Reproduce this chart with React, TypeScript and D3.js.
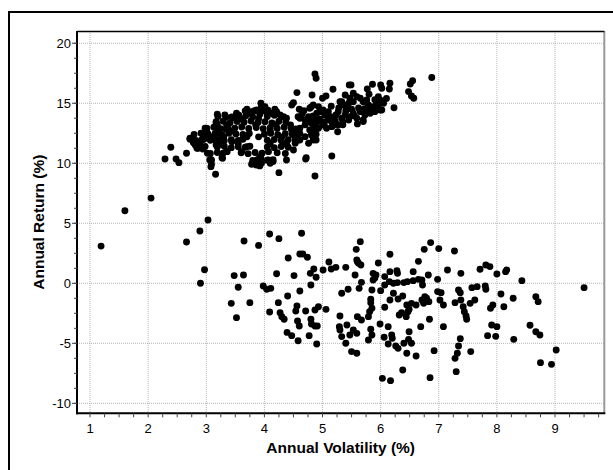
import React from "react";
import * as d3 from "d3";

// Annual volatility (%) vs. annual return (%) for two groups of funds.
const highReturnFunds: [number, number][] = [
  [2.29, 10.36], [2.39, 11.33], [2.48, 10.36], [2.53, 10.05], [2.66, 10.83], [2.72, 12.0], [2.78, 11.72],
  [2.84, 11.25], [2.91, 11.33], [2.89, 11.8], [2.96, 12.0], [3.0, 12.92], [3.02, 12.36], [3.02, 10.83],
  [3.09, 10.27], [3.08, 9.72], [3.16, 9.08], [3.28, 10.42], [3.36, 10.97], [3.19, 14.08], [3.19, 13.19],
  [3.21, 12.5], [3.15, 11.94], [3.34, 13.83], [3.34, 12.83], [3.29, 12.08], [3.44, 11.8], [3.52, 14.17],
  [3.61, 10.97], [3.7, 11.39], [3.8, 10.0], [3.87, 10.27], [3.92, 9.78], [3.94, 10.42], [3.94, 15.0],
  [4.01, 14.72], [4.07, 10.97], [4.15, 10.14], [4.25, 9.22], [4.38, 10.27], [4.5, 11.11], [4.56, 15.89],
  [4.47, 14.86], [4.5, 15.05], [4.71, 10.36], [4.87, 8.94], [4.87, 17.44], [4.89, 17.08], [4.82, 15.69],
  [4.68, 14.38], [4.8, 14.67], [5.0, 15.42], [5.06, 15.61], [5.18, 16.17], [5.39, 15.69], [5.46, 16.53],
  [5.3, 15.13], [5.26, 12.63], [5.16, 10.61], [4.84, 12.36], [4.78, 12.78], [4.93, 12.92], [5.03, 13.19],
  [3.48, 13.8], [3.67, 14.36], [3.72, 14.17], [3.78, 14.3], [3.87, 14.44], [3.95, 14.72], [4.01, 14.36],
  [4.05, 14.03], [4.15, 14.17], [4.21, 14.3], [4.27, 14.03], [4.33, 13.88], [4.38, 13.75], [4.58, 13.88],
  [4.87, 13.61], [2.98, 12.92], [3.02, 12.5], [2.95, 12.36], [2.92, 11.94], [2.89, 11.67], [2.72, 12.08],
  [2.78, 11.8], [2.81, 11.53], [2.86, 11.25], [2.94, 11.19], [3.06, 10.27], [3.09, 9.92], [3.17, 13.47],
  [3.15, 13.05], [3.18, 12.63], [3.12, 12.22], [3.21, 11.94], [3.27, 11.67], [3.17, 11.53], [3.27, 10.47],
  [3.35, 11.03], [3.92, 10.55], [3.95, 10.0], [3.81, 10.0], [3.78, 9.92], [4.07, 10.27], [4.1, 10.0],
  [4.53, 11.67], [4.58, 11.94], [4.56, 12.5], [4.7, 12.22], [4.76, 11.67], [4.72, 10.47], [4.81, 12.63],
  [4.87, 12.36], [4.84, 11.94],
  [3.7, 14.5], [3.83, 14.38], [3.95, 14.55], [4.06, 14.42], [4.18, 14.5],
  [3.2, 13.9], [3.32, 14.02], [3.44, 13.86], [3.56, 14.0], [3.68, 13.95], [3.8, 13.88], [3.92, 14.06],
  [4.05, 13.9], [4.17, 14.0], [4.29, 13.85], [4.84, 13.95],
  [3.17, 13.4], [3.29, 13.5], [3.41, 13.38], [3.53, 13.47], [3.65, 13.42], [3.77, 13.52], [3.89, 13.4],
  [4.01, 13.46], [4.13, 13.36], [4.25, 13.5], [4.37, 13.42], [4.8, 13.45], [4.9, 13.38],
  [3.01, 12.9], [3.13, 13.0], [3.25, 12.88], [3.37, 12.97], [3.49, 12.92], [3.61, 13.02], [3.73, 12.9],
  [3.86, 12.98], [3.98, 12.88], [4.1, 12.96], [4.22, 12.9], [4.34, 13.0], [4.46, 12.92], [4.54, 12.86],
  [4.85, 12.98],
  [2.79, 12.4], [2.91, 12.5], [3.03, 12.42], [3.15, 12.47], [3.27, 12.38], [3.39, 12.5], [3.51, 12.44],
  [3.63, 12.4], [3.74, 12.48], [4.0, 12.42], [4.11, 12.5], [4.23, 12.38], [4.36, 12.46], [4.48, 12.4],
  [4.61, 12.48], [4.89, 12.42],
  [2.82, 11.9], [2.94, 12.0], [3.07, 11.92], [3.19, 11.97], [3.31, 11.88], [3.43, 11.96], [3.55, 11.9],
  [3.63, 12.0], [4.05, 11.92], [4.17, 11.98], [4.29, 11.9], [4.41, 11.96], [4.53, 11.88], [4.89, 11.94],
  [2.87, 11.32], [2.98, 11.4], [3.19, 11.35], [3.31, 11.42], [3.43, 11.3], [3.55, 11.38], [3.67, 11.34],
  [3.75, 11.42], [4.05, 11.36], [4.17, 11.3], [4.29, 11.4], [4.41, 11.34],
  [3.07, 10.82], [3.19, 10.9], [3.29, 10.84], [3.6, 10.88], [3.72, 10.8], [3.84, 10.9], [3.96, 10.84],
  [4.22, 10.88], [4.36, 10.82],
  [3.08, 10.3], [3.8, 10.24], [3.92, 10.32], [4.05, 10.26], [4.15, 10.3], [3.86, 9.86],
  [3.35, 13.2], [3.6, 13.7], [3.9, 13.7], [4.2, 13.2], [4.1, 12.7], [3.45, 12.7], [3.7, 12.2],
  [3.3, 12.2], [4.3, 12.2], [4.45, 13.2], [3.85, 13.2], [3.55, 11.65], [3.25, 11.6], [4.1, 11.65],
  [4.35, 11.65], [3.9, 12.2],
  [4.78, 14.58], [4.84, 14.86], [4.93, 14.72], [4.96, 14.3], [5.01, 14.44], [5.04, 14.03], [5.1, 14.3],
  [5.13, 13.88], [5.16, 13.47], [5.19, 13.19], [5.23, 14.03], [5.27, 14.3], [5.33, 15.13], [5.36, 14.86],
  [5.42, 14.58], [5.47, 15.42], [5.53, 15.13], [5.59, 15.55], [5.65, 15.42], [5.7, 15.13], [5.76, 15.28],
  [5.79, 14.86], [5.85, 14.58], [5.87, 14.72], [5.96, 14.72], [5.99, 14.44], [5.9, 14.3], [5.82, 14.17],
  [5.73, 14.03], [5.7, 13.61], [5.65, 14.3], [5.59, 13.75], [5.53, 14.17], [5.47, 13.88], [5.39, 14.03],
  [5.33, 13.75], [5.27, 13.19], [5.16, 13.05], [5.07, 12.92], [5.01, 13.19], [4.9, 12.92], [4.84, 13.75],
  [4.81, 13.33], [4.87, 12.5], [4.81, 12.36], [5.99, 15.28], [5.96, 15.55], [5.8, 15.75], [5.7, 13.47],
  [4.61, 13.75], [4.7, 13.61], [4.76, 13.88], [4.9, 14.17], [4.97, 14.3], [4.61, 12.92], [4.53, 12.22],
  [4.61, 11.94], [4.47, 12.78], [4.38, 11.67],
  [5.1, 13.6], [5.22, 13.5], [5.35, 13.45], [5.45, 13.6], [5.55, 13.95], [5.62, 14.6], [5.72, 14.55],
  [5.8, 14.4], [5.93, 14.95], [6.05, 15.0], [5.45, 15.0], [5.28, 14.6], [5.15, 14.75], [5.05, 14.0],
  [5.2, 13.85], [5.4, 14.35], [5.5, 14.5], [5.35, 13.2], [5.9, 15.3], [6.1, 15.4], [4.95, 13.7],
  [5.0, 13.45], [4.7, 13.2], [4.65, 14.1], [4.6, 14.5],
  [5.53, 15.83], [5.77, 16.19], [5.86, 16.58], [6.0, 16.53], [6.02, 16.25], [6.16, 16.67], [6.15, 16.19],
  [6.55, 16.88], [6.51, 16.61], [6.48, 15.97], [6.53, 15.61], [6.57, 15.42], [6.88, 17.14], [6.23, 14.63],
  [5.6, 13.28], [5.49, 16.53], [6.02, 14.44],
];

const lowReturnFunds: [number, number][] = [
  [2.05, 7.1], [1.6, 6.05], [1.19, 3.1], [3.03, 5.27], [2.89, 4.36], [2.66, 3.44], [2.97, 1.13], [2.9, 0.0],
  [3.65, 3.52], [3.9, 3.16], [4.09, 4.11], [4.25, 3.72], [4.64, 4.17], [3.48, 0.64], [3.64, 0.69],
  [3.55, -0.33], [3.43, -1.67], [3.52, -2.86], [3.75, -1.61], [3.98, -0.22], [4.04, -0.5], [4.11, -0.42],
  [4.21, 0.8], [4.41, 2.11], [4.51, 0.64], [4.61, 2.44], [4.66, 2.44], [4.74, 2.17], [4.61, -0.64],
  [4.4, -1.06], [4.24, -1.61], [4.09, -2.39], [4.27, -2.45], [4.3, -2.78], [4.34, -3.0], [4.39, -4.09],
  [4.47, -4.36], [4.58, -4.78], [4.56, -1.89], [4.54, -2.31], [4.71, -2.31], [4.57, -3.14], [4.6, -3.56],
  [4.8, -3.0], [4.81, -3.39], [4.87, -3.56], [4.91, -3.56], [4.77, -4.36], [4.9, -5.06], [4.87, -2.22],
  [4.93, -1.95], [5.06, -2.17], [4.8, -0.14], [4.79, 0.83], [4.85, 1.19], [4.89, 0.5], [5.01, 1.11],
  [5.11, 1.78], [5.15, 1.19], [5.23, 1.33], [5.4, 1.33], [5.33, -0.83], [5.44, -0.5], [5.3, -2.73],
  [5.29, -3.61], [5.3, -3.89], [5.42, -3.47], [5.33, -4.44], [5.4, -5.0],
  [5.65, 3.47], [5.58, 2.83], [6.16, 2.42], [6.75, 2.83], [6.86, 3.39], [7.0, 2.89], [7.27, 2.69],
  [6.65, 1.83], [5.96, 1.69], [5.59, 1.94], [5.62, 1.67], [5.66, 1.53], [5.6, 1.8], [5.56, 0.69],
  [5.87, 0.83], [5.92, 0.69], [5.9, 0.45], [6.07, 0.56], [6.16, 0.97], [6.28, 1.05], [6.29, 0.83],
  [6.56, 0.97], [6.82, 0.69], [6.98, 0.33], [7.15, 1.11], [7.38, 0.83], [7.71, 1.17], [7.81, 1.53],
  [7.88, 1.39], [8.0, 0.78], [8.15, 0.97], [8.17, 1.11], [8.43, 0.22], [9.5, -0.36],
  [5.67, 0.08], [5.63, -0.42], [5.87, 0.28], [5.85, -0.56], [6.0, -0.61], [6.07, -0.14], [6.15, 0.14],
  [6.22, 0.0], [6.29, 0.06], [6.4, 0.06], [6.46, 0.14], [6.56, 0.22], [6.65, 0.33], [6.71, 0.28],
  [6.72, -0.14], [6.22, -0.83], [6.16, -1.39], [6.3, -1.31], [6.38, -1.06], [6.07, -2.0], [6.45, -1.81],
  [6.53, -1.67], [6.61, -1.81], [6.71, -1.39], [6.76, -1.11], [6.79, -1.25], [6.83, -1.53], [6.74, -1.67],
  [6.49, -2.17], [6.36, -2.45], [6.32, -2.64], [6.44, -2.78], [6.47, -2.36], [5.83, -1.33], [5.83, -1.61],
  [5.85, -2.08], [5.81, -2.36], [5.79, -2.78], [5.6, -2.78], [5.67, -3.06], [6.98, -0.69], [7.04, -0.78],
  [7.02, -1.39], [7.08, -1.81], [6.84, -3.0], [6.69, -3.61], [7.08, -3.61], [7.34, -0.56], [7.37, -0.78],
  [7.28, -1.61], [7.38, -1.39], [7.42, -1.95], [7.44, -2.36], [7.47, -2.73], [7.48, -3.0], [7.54, -1.67],
  [7.62, -1.39], [7.57, -0.36], [7.66, -0.28], [7.8, -0.22], [7.81, -0.5], [8.07, -0.89], [8.28, -1.25],
  [7.93, -1.81], [7.89, -2.08], [8.12, -1.95], [8.67, -1.11], [8.71, -1.53], [7.91, -3.47], [8.0, -3.61],
  [7.84, -4.36], [7.98, -4.42], [8.29, -4.67], [8.57, -3.5], [8.67, -4.03], [8.74, -4.31], [9.02, -5.56],
  [8.75, -6.61], [8.94, -6.75],
  [5.47, -4.31], [5.5, -5.69], [5.59, -5.83], [5.53, -3.89], [5.59, -4.17], [5.79, -4.72], [5.83, -3.83],
  [5.85, -4.31], [5.99, -3.39], [6.06, -4.5], [6.13, -3.61], [6.19, -4.31], [6.2, -4.58], [6.13, -5.06],
  [6.26, -5.22], [6.3, -5.42], [6.4, -5.0], [6.48, -4.67], [6.49, -4.03], [6.53, -5.0], [6.45, -5.83],
  [6.61, -6.06], [6.92, -5.61], [6.38, -7.22], [6.03, -7.92], [6.17, -8.11], [6.85, -7.86], [7.3, -7.36],
  [7.28, -6.25], [7.32, -5.83], [7.34, -5.22], [7.37, -4.61], [7.55, -5.69],
];

const xTicks = [1, 2, 3, 4, 5, 6, 7, 8, 9];
const yTicks = [-10, -5, 0, 5, 10, 15, 20];
const xTitle = "Annual Volatility (%)";
const yTitle = "Annual Return (%)";

const W = 613;
const H = 470;
const left = 77;
const right = 604.3;
const top = 31;
const bottom = 413.3;
const font = "'Liberation Sans', Arial, Helvetica, sans-serif";

export default function App() {
  const x = d3.scaleLinear().domain([0.776, 9.848]).range([left, right]);
  const y = d3.scaleLinear().domain([-10.83, 21.02]).range([bottom, top]);

  const xMinor = d3.range(0.75, 9.85, 0.25).filter((v) => x(v) >= left && x(v) <= right);
  const yMinor = d3.range(-10, 21.1, 1.25).filter((v) => y(v) >= top && y(v) <= bottom);

  const points = [...highReturnFunds, ...lowReturnFunds];

  return (
    <svg
      width={W}
      height={H}
      style={{ position: "absolute", left: 0, top: 0, background: "#fff" }}
      fontFamily={font}
    >
      <rect x={0} y={0} width={W} height={H} fill="#fff" />
      {/* outer frame */}
      <path d={`M9,${H + 5} V12 H${W + 5}`} fill="none" stroke="#000" strokeWidth={2} />

      {/* grid */}
      <g stroke="#b4b4b4" strokeWidth={1} strokeDasharray="1 1">
        {xTicks.map((t) => (
          <line key={"gx" + t} x1={x(t)} x2={x(t)} y1={top} y2={bottom} />
        ))}
        {yTicks.map((t) => (
          <line key={"gy" + t} x1={left} x2={right} y1={y(t)} y2={y(t)} />
        ))}
      </g>

      {/* points */}
      <g fill="#000">
        {points.map((p, i) => (
          <circle key={i} cx={x(p[0])} cy={y(p[1])} r={3.45} />
        ))}
      </g>

      {/* plot frame */}
      <line x1={right} x2={right} y1={top} y2={bottom} stroke="#999" strokeWidth={2} />
      <line x1={left} x2={right} y1={top + 0.5} y2={top + 0.5} stroke="#000" strokeWidth={1.5} />
      <line x1={left} x2={left} y1={top} y2={bottom + 1} stroke="#000" strokeWidth={2} />
      <line x1={left - 1} x2={right + 1} y1={bottom} y2={bottom} stroke="#000" strokeWidth={2} />

      {/* ticks */}
      <g stroke="#444" strokeWidth={1}>
        {xMinor.map((v, i) => (
          <line key={"xm" + i} x1={x(v)} x2={x(v)} y1={bottom} y2={bottom + 4} />
        ))}
        {yMinor.map((v, i) => (
          <line key={"ym" + i} x1={left - 3} x2={left} y1={y(v)} y2={y(v)} />
        ))}
        {yTicks.map((t) => (
          <line key={"yt" + t} x1={left - 5} x2={left} y1={y(t)} y2={y(t)} />
        ))}
      </g>

      {/* tick labels */}
      <g fontSize={13} fill="#000">
        {xTicks.map((t) => (
          <text key={"xl" + t} x={x(t)} y={433} textAnchor="middle">
            {t}
          </text>
        ))}
        {yTicks.map((t) => (
          <text key={"yl" + t} x={71} y={y(t) + 4.6} textAnchor="end">
            {t}
          </text>
        ))}
      </g>

      {/* axis titles */}
      <text x={(left + right) / 2} y={452.5} textAnchor="middle" fontSize={15.5} fontWeight="bold">
        {xTitle}
      </text>
      <text
        transform={`translate(43.5, ${(top + bottom) / 2}) rotate(-90)`}
        textAnchor="middle"
        fontSize={15.5}
        fontWeight="bold"
      >
        {yTitle}
      </text>
    </svg>
  );
}
